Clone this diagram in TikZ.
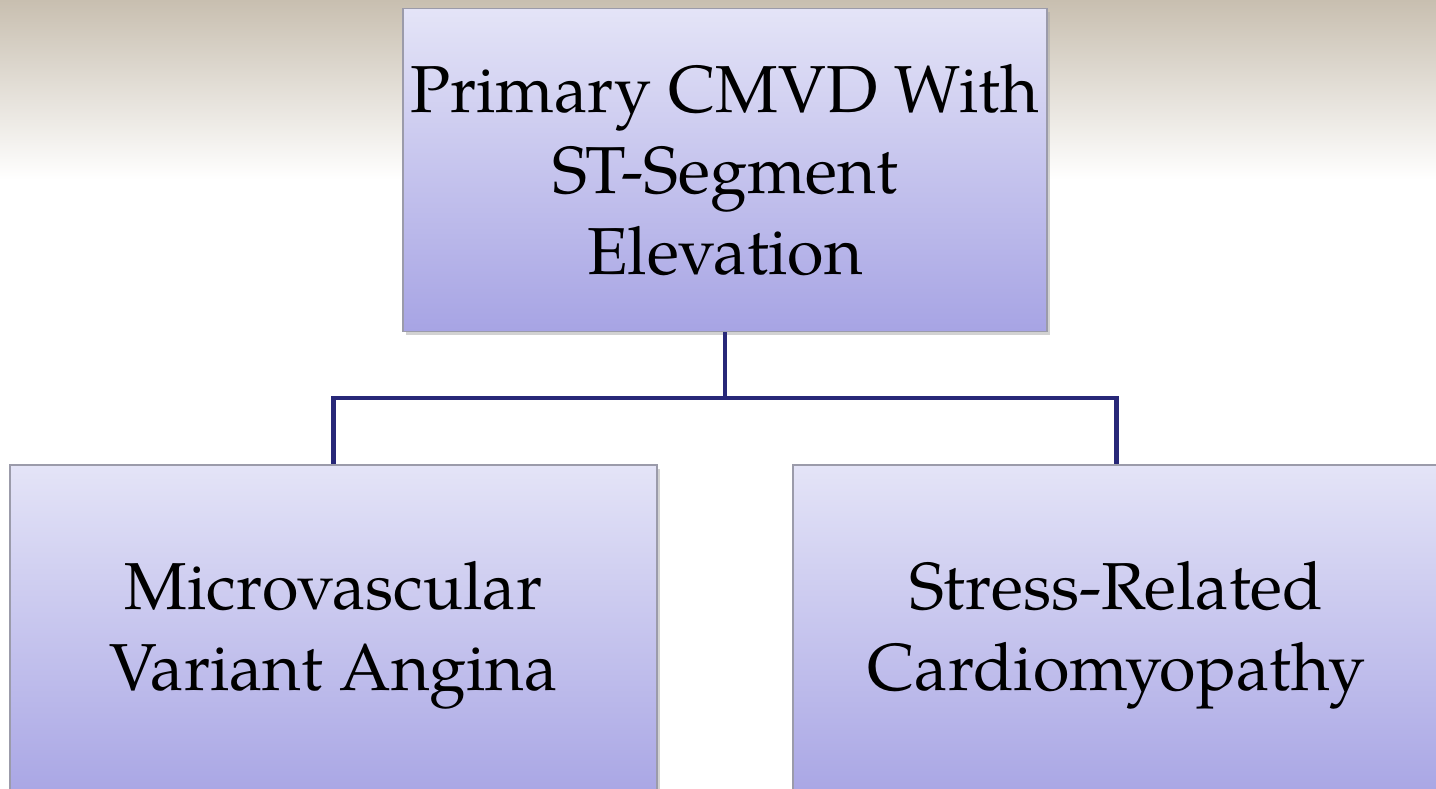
\documentclass[tikz,border=0pt]{standalone}
\usepackage{fontspec}
\setmainfont{TeX Gyre Pagella}
\usetikzlibrary{shadows}
\definecolor{bgtop}{RGB}{200,191,176}
\definecolor{boxtop}{RGB}{228,228,247}
\definecolor{boxbot}{RGB}{167,164,228}
\definecolor{boxline}{RGB}{155,155,170}
\definecolor{conn}{RGB}{40,40,120}
\tikzset{
  catbox/.style={draw=boxline, line width=1.1pt, top color=boxtop, bottom color=boxbot,
    align=center, inner sep=0pt, font=\fontsize{37.8}{46}\selectfont,
    drop shadow={shadow xshift=1.5pt, shadow yshift=-2pt, fill=black!35, opacity=0.5}},
  link/.style={draw=conn, line width=2.5pt}
}
\begin{document}
\begin{tikzpicture}[x=0.02cm,y=-0.02cm]
\useasboundingbox (0,0) rectangle (1436,788);
\clip (0,0) rectangle (1436,788);
\fill[white] (0,0) rectangle (1436,788);
\shade[top color=bgtop, bottom color=white] (0,0) rectangle (1436,180);
\node[catbox, minimum width=644*0.02cm, minimum height=323*0.02cm] (top) at (725,170)
  {Primary CMVD With\\ST-Segment\\Elevation};
\node[catbox, minimum width=647*0.02cm, minimum height=340*0.02cm] (left) at (333.5,635)
  {Microvascular\\Variant Angina};
\node[catbox, minimum width=647*0.02cm, minimum height=340*0.02cm] (right) at (1116.5,635)
  {Stress-Related\\Cardiomyopathy};
\coordinate (j) at (725,398);
\draw[link] (top.south) -- (j);
\draw[link] (j) -| (left.north);
\draw[link] (j) -| (right.north);
\end{tikzpicture}
\end{document}
